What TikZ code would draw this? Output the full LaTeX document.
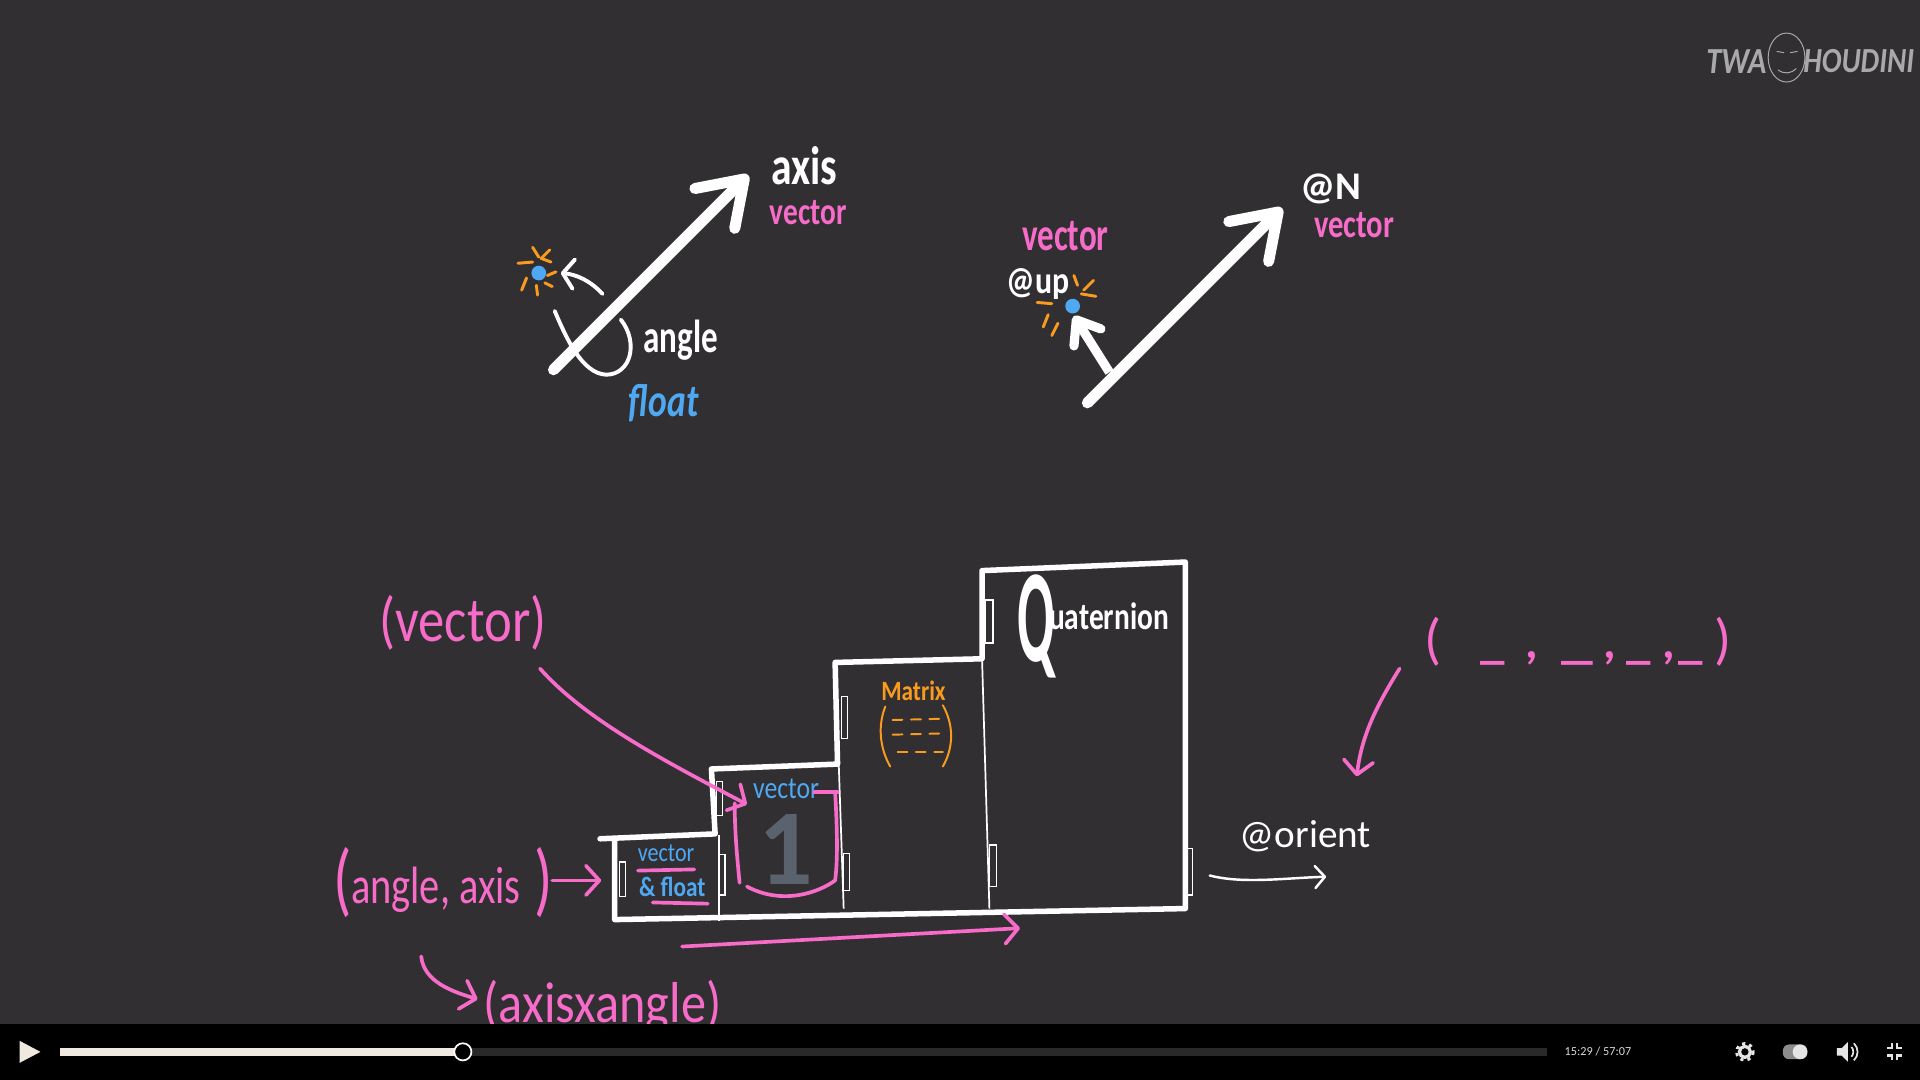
\documentclass[tikz,border=0pt]{standalone}
\usepackage{graphicx}
\usepackage{fontspec}
\setmainfont{Carlito}
\usetikzlibrary{arrows.meta}
\definecolor{boardbg}{HTML}{322F33}
\definecolor{penpink}{HTML}{F76CC8}
\definecolor{penblue}{HTML}{4FA9F2}
\definecolor{penorange}{HTML}{F99B1E}
\definecolor{logogrey}{HTML}{A9A9AB}
\definecolor{cream}{HTML}{EFE9E0}
\definecolor{slategrey}{HTML}{59626D}
\newcommand{\tall}[2]{\scalebox{1}[#1]{#2}}
\newcommand{\hand}[1]{\fontsize{#1}{#1}\selectfont}
\newcommand{\slimparen}[1]{\scalebox{0.75}[1]{\hand{66}#1}}
\tikzset{
  note/.style = {inner sep=0pt, align=center},
  bigbarb/.style = {-{Straight Barb[length=34pt, width=46pt, round]}, white, line width=9pt, line cap=round},
  wire/.style = {white, line width=3.2pt, line cap=round, line join=round},
  thinwire/.style = {white, line width=1.4pt},
  pinkline/.style = {penpink, line width=3pt, line cap=round, line join=round},
  pinkbarb/.style = {pinkline, -{Straight Barb[length=11pt, width=24pt, round]}},
  rays/.style = {penorange, line width=2.4pt, line cap=round},
  hinge/.style = {white, line width=1.1pt}
}

\begin{document}
\begin{tikzpicture}[x=1pt, y=-1pt]

    % Board and frame
    \fill[boardbg] (0,0) rectangle (1568,882);
    \useasboundingbox (0,0) rectangle (1568,882);

    %% Rotation about an axis

    % Axis arrow
    \coordinate (axisTail) at (452,302);
    \coordinate (axisTip) at (611,143);
    \draw[bigbarb] (axisTail) -- (axisTip);
    \node[note, text=white, font=\hand{34}\bfseries] (axisText) at (657,135) {\tall{1.3}{axis}};
    \node[note, text=penpink, font=\hand{24}\bfseries] (axisType) at (660,174) {\tall{1.3}{vector}};

    % Sun and small arrow
    \fill[penblue] (440,223) circle (6);
    \draw[rays] (435,202) -- (440,210) (449,204) -- (442,211) (442,211) -- (450,214) (423,215) -- (435,214) (454,222) -- (447,225) (430,227) -- (426,237) (438,233) -- (439,241) (445,231) -- (451,234);
    \coordinate (sunTail) at (492,240);
    \coordinate (sunTip) at (458,223);
    \draw[wire, -{Straight Barb[length=9pt, width=24pt, round]}] (sunTail) .. controls (482,229) and (470,224) .. (sunTip);

    % Angle loop
    \draw[wire] (453,254) .. controls (462,275) and (475,305) .. (495,306) .. controls (515,306) and (522,280) .. (507,261);
    \node[note, text=white, font=\hand{27}\bfseries] (angleText) at (556,278) {\tall{1.4}{angle}};
    \node[note, text=penblue, font=\hand{29}\bfseries\itshape] (angleType) at (542,329) {\tall{1.3}{float}};

    %% Up vector

    % Normal and up arrows
    \coordinate (normalTail) at (888,329);
    \coordinate (normalTip) at (1047,170);
    \draw[bigbarb] (normalTail) -- (normalTip);
    \coordinate (upTail) at (906,304);
    \coordinate (upTip) at (877,258);
    \draw[white, line width=7.5pt, -{Straight Barb[length=17pt, width=26pt, round]}] (upTail) -- (upTip);
    \node[note, text=white, font=\hand{32}\bfseries] (normalText) at (1087,154) {@N};
    \node[note, text=penpink, font=\hand{25}\bfseries] (normalType) at (1106,184) {\tall{1.3}{vector}};

    % Sun and its labels
    \fill[penblue] (876,250) circle (6);
    \draw[rays] (877,225) -- (880,233) (893,229) -- (885,237) (883,240) -- (895,242) (847,247) -- (859,248) (856,257) -- (852,267) (864,264) -- (859,274);
    \node[note, text=white, font=\hand{26}\bfseries] (upText) at (848,232) {\tall{1.2}{@up}};
    \node[note, text=penpink, font=\hand{27}\bfseries] (upType) at (870,193) {\tall{1.4}{vector}};

    %% Stepped boxes

    % Outline
    \draw[wire, line width=4.5pt] (490,685) -- (584,681) -- (581,628) -- (684,624) -- (682,541) -- (802,538) -- (802,466) -- (968,459) -- (968,742) -- (502,751) -- (502,685);

    % Dividers
    \draw[thinwire] (587,682) -- (587,752);
    \draw[thinwire] (685,625) -- (689,742);
    \draw[thinwire] (802,538) -- (808,742);

    % Hinges
    \draw[hinge] (506,704) rectangle (511,732);
    \draw[hinge] (587,698) rectangle (592,731);
    \draw[hinge] (585,638) rectangle (590,666);
    \draw[hinge] (689,697) rectangle (694,727);
    \draw[hinge] (687,569) rectangle (692,603);
    \draw[hinge] (805,490) rectangle (811,525);
    \draw[hinge] (808,690) rectangle (814,724);
    \draw[hinge] (969,693) rectangle (974,731);

    % First box
    \node[note, text=penblue, font=\hand{18}] (smallVector) at (544,697) {\tall{1.2}{vector}};
    \node[note, text=penblue, font=\hand{19}\bfseries] (smallFloat) at (549,724) {\tall{1.2}{\& float}};
    \draw[pinkline] (521,711) -- (567,710);
    \draw[pinkline] (533,737) -- (578,738);

    % Second box
    \node[note, text=penblue, font=\hand{21}] (midVector) at (642,644) {\tall{1.2}{vector}};
    \node[note, text=slategrey, font=\hand{88}\bfseries] (midOne) at (642,694) {1};
    \draw[pinkline] (665,647) -- (684,647);
    \draw[pinkline] (682,647) .. controls (684,680) and (684,705) .. (682,719) .. controls (670,728) and (640,740) .. (610,724);
    \draw[pinkline] (604,721) .. controls (602,700) and (600,680) .. (600,656);

    % Third box
    \node[note, text=penorange, font=\hand{19}\bfseries] (matrixText) at (746,564) {\tall{1.2}{Matrix}};
    \draw[penorange, line width=1.6pt, line cap=round] (723,577) .. controls (717,592) and (718,610) .. (727,626);
    \draw[penorange, line width=1.6pt, line cap=round] (770,576) .. controls (779,592) and (779,610) .. (770,626);
    \draw[penorange, line width=1.6pt, line cap=round, dash pattern=on 8pt off 7pt] (729,588) -- (768,587);
    \draw[penorange, line width=1.6pt, line cap=round, dash pattern=on 8pt off 7pt] (729,600) -- (768,599);
    \draw[penorange, line width=1.6pt, line cap=round, dash pattern=on 8pt off 7pt] (733,614) -- (770,614);

    % Fourth box
    \node[note, text=white, anchor=base west] (quatText) at (831,514) {\raisebox{-26pt}{\scalebox{0.62}[1.5]{\hand{72}\bfseries Q}}\hspace{-5pt}\hand{24}\bfseries\tall{1.3}{uaternion}};

    %% Pink notes

    % Vector note
    \node[note, text=penpink, font=\hand{43}] (vectorNote) at (378,509) {\tall{1.2}{(vector)}};
    \coordinate (vectorTail) at (441,546);
    \coordinate (vectorTip) at (610,657);
    \draw[pinkbarb] (vectorTail) .. controls (480,590) and (550,625) .. (vectorTip);

    % Angle and axis note
    \node[note, text=penpink, font=\hand{33}] (angleAxis) at (362,721) {\slimparen{(}\hspace{-1pt}\raisebox{3pt}{\tall{1.3}{angle, axis}}\hspace{11pt}\slimparen{)}};
    \coordinate (noteTail) at (451,719);
    \coordinate (noteTip) at (491,719);
    \draw[pinkbarb] (noteTail) -- (noteTip);

    % Arrow under the boxes
    \coordinate (stepTail) at (557,773);
    \coordinate (stepTip) at (833,758);
    \draw[pinkbarb] (stepTail) -- (stepTip);

    % Axis times angle note
    \coordinate (crossTail) at (344,781);
    \coordinate (crossTip) at (390,816);
    \draw[pinkbarb] (crossTail) .. controls (346,802) and (370,810) .. (crossTip);
    \node[note, text=penpink, font=\hand{41}] (crossNote) at (492,822) {\tall{1.15}{(axisxangle)}};

    % Four slots note
    \node[note, text=penpink, font=\hand{46}] (slotsNote) at (1288.5,524) {(\hspace{32pt}\hand{40}\bfseries\_\hspace{17pt},\hspace{19pt}\scalebox{1.3}[1]{\_}\hspace{8pt},\hspace{9pt}\_\hspace{9pt},\hspace{3pt}\_\hspace{9pt}\hand{46}\mdseries)};
    \coordinate (slotsTail) at (1143,546);
    \coordinate (slotsTip) at (1108,634);
    \draw[pinkbarb] (slotsTail) .. controls (1125,575) and (1112,600) .. (slotsTip);

    % Orient
    \node[note, text=white, font=\hand{32}] (orientText) at (1066,683) {@orient};
    \coordinate (orientTail) at (988,715);
    \coordinate (orientTip) at (1083,716);
    \draw[white, line width=2pt, line cap=round, -{Straight Barb[length=8pt, width=18pt, round]}] (orientTail) .. controls (1015,722) and (1050,717) .. (orientTip);

    %% Logo
    \node[note, text=logogrey, font=\hand{25}\bfseries\itshape] (logoLeft) at (1418,50) {\tall{1.2}{TWA}};
    \node[note, text=logogrey, font=\hand{24}\bfseries\itshape] (logoRight) at (1518,50) {\tall{1.2}{HOUDINI}};
    \draw[logogrey, line width=0.8pt] (1459,47) ellipse (15 and 20);
    \draw[logogrey, line width=0.8pt] (1451,42) -- (1457,43) (1462,43) -- (1468,42) (1452,57) .. controls (1457,61) and (1463,60) .. (1467,56);

    %% Player bar
    \fill[black] (0,836) rectangle (1568,882);
    \fill[cream] (16,850) -- (33,859) -- (16,868) -- cycle;
    \fill[white!16!black] (378,856) rectangle (1263,862);
    \fill[cream] (49,856) rectangle (378,862);
    \draw[white, fill=black, line width=1.4pt] (378,859) circle (7);
    \node[note, text=white!85!black, font=\hand{10}] (timeText) at (1305,859) {15:29 / 57:07};

    % Gear
    \draw[white!90!black, line width=2.6pt] (1425,859) circle (4.5);
    \draw[white!90!black, line width=2.4pt, dash pattern=on 2.6pt off 3.3pt] (1425,859) circle (6.8);

    % Toggle
    \fill[white!55!black, rounded corners=5pt] (1456,853) rectangle (1476,865);
    \fill[white!90!black] (1470,859) circle (6);

    % Volume
    \fill[white!90!black] (1500,856) -- (1504,856) -- (1509,851) -- (1509,867) -- (1504,862) -- (1500,862) -- cycle;
    \draw[white!90!black, line width=1.4pt] (1512,855) .. controls (1514,857) and (1514,861) .. (1512,863);
    \draw[white!90!black, line width=1.4pt] (1514,852) .. controls (1518,856) and (1518,862) .. (1514,866);

    % Fullscreen exit
    \draw[white!90!black, line width=2pt] (1541,856) -- (1545,856) -- (1545,852);
    \draw[white!90!black, line width=2pt] (1553,856) -- (1549,856) -- (1549,852);
    \draw[white!90!black, line width=2pt] (1541,862) -- (1545,862) -- (1545,866);
    \draw[white!90!black, line width=2pt] (1553,862) -- (1549,862) -- (1549,866);

\end{tikzpicture}
\end{document}
